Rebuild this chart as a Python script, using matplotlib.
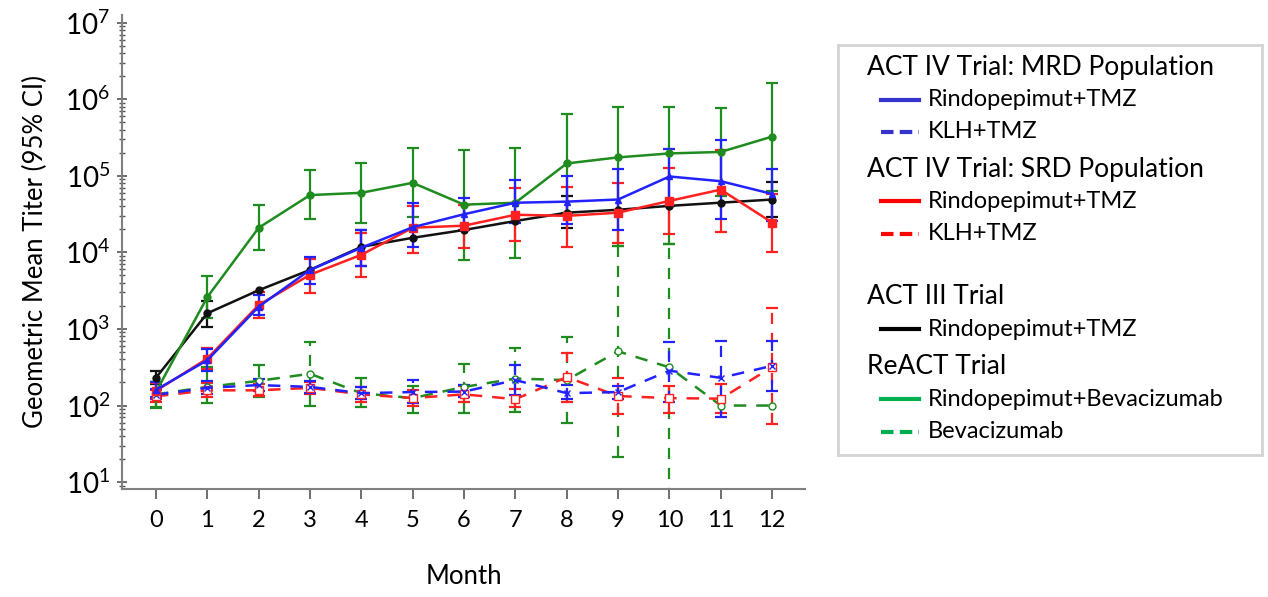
import numpy as np
import matplotlib.pyplot as plt
from matplotlib.ticker import FixedLocator, LogLocator, FuncFormatter, NullFormatter

plt.rcParams['font.family'] = ['Lato', 'DejaVu Sans']
plt.rcParams['mathtext.fontset'] = 'custom'
plt.rcParams['mathtext.rm'] = 'Lato'
plt.rcParams['mathtext.it'] = 'Lato'

nan = np.nan
months = list(range(13))
decades = [1e1, 1e2, 1e3, 1e4, 1e5, 1e6, 1e7]

# ACT IV, MRD population
mrd_rindo    = [160, 390, 1950, 5900, 11500, 21300, 31500, 44500, 46000, 49000, 98000, 85000, 58000]
mrd_rindo_lo = [130, 280, 1500, 3900, 6600, 11800, 19500, 24500, 23500, 19500, 40000, 27600, 25700]
mrd_rindo_hi = [200, 540, 2800, 8600, 19500, 44000, 52000, 89000, 100000, 123000, 225000, 290000, 123000]
mrd_klh      = [138, 170, 185, 175, 145, 150, 152, 215, 145, 150, 285, 230, 330]
mrd_klh_lo   = [120, 140, 155, 145, 123, 107, 130, 137, 120, 123, 112, 71, 155]
mrd_klh_hi   = [165, 210, 220, 210, 175, 215, 185, 340, 185, 180, 680, 690, 690]

# ACT IV, SRD population
srd_rindo    = [155, 410, 2050, 5100, 9300, 21000, 22300, 31000, 30000, 33000, 47000, 66000, 24500]
srd_rindo_lo = [125, 300, 1380, 2950, 4800, 9800, 11300, 14000, 11800, 13200, 17400, 18600, 10200]
srd_rindo_hi = [195, 560, 3000, 8300, 17800, 40000, 42000, 69000, 72000, 81000, 126000, 218000, 58000]
srd_klh      = [132, 158, 158, 170, 140, 125, 140, 121, 235, 133, 125, 123, 318]
srd_klh_lo   = [110, 130, 135, 140, 112, 100, 110, 95, 112, 78, 80, 80, 58]
srd_klh_hi   = [160, 195, 190, 205, 175, 160, 180, 165, 490, 230, 178, 190, 1850]

# ACT III
act3    = [230, 1600, 3200, 5900, 11800, 15500, 19600, 25700, 33000, 36000, 40500, 44600, 49000]
act3_lo = [190, 1050, nan, nan, 6600, nan, nan, nan, 21000, nan, nan, nan, 28700]
act3_hi = [280, 2300, nan, nan, 19500, nan, nan, nan, 54000, nan, nan, nan, 83000]

# ReACT
react_rindo    = [150, 2600, 20900, 56000, 60000, 81000, 42000, 44500, 145000, 174000, 196000, 205000, 325000]
react_rindo_lo = [95, 1380, 10700, 27600, 24500, 29000, 7900, 8500, 33000, 12000, 13000, 55000, 63000]
react_rindo_hi = [200, 4900, 41600, 118000, 148000, 234000, 218000, 234000, 650000, 800000, 800000, 770000, 1650000]
react_bev      = [140, 175, 210, 260, 145, 125, 175, 225, 215, 510, 315, 100, 100]
react_bev_lo   = [93, 107, 130, 100, 95, 80, 80, 82, 60, 21, 1, nan, nan]
react_bev_hi   = [200, 320, 340, 680, 230, 180, 350, 560, 790, 12000, 13000, nan, nan]

GREEN = '#1e8c1e'
BLUE = '#2222ff'
RED = '#ff2020'
BLACK = '#111111'

# (values, lo, hi, colour, linestyle, marker, filled)
series = [
    (react_bev, react_bev_lo, react_bev_hi, GREEN, '--', 'o', False),
    (srd_klh, srd_klh_lo, srd_klh_hi, RED, '--', 's', False),
    (mrd_klh, mrd_klh_lo, mrd_klh_hi, BLUE, '--', 'x', False),
    (act3, act3_lo, act3_hi, BLACK, '-', 'o', True),
    (react_rindo, react_rindo_lo, react_rindo_hi, GREEN, '-', 'o', True),
    (srd_rindo, srd_rindo_lo, srd_rindo_hi, RED, '-', 's', True),
    (mrd_rindo, mrd_rindo_lo, mrd_rindo_hi, BLUE, '-', '^', True),
]

fig = plt.figure(figsize=(12.68, 5.97), dpi=100)
ax = fig.add_axes([122 / 1268, 1 - 489 / 597, 683 / 1268, 474 / 597])

for vals, lo, hi, col, ls, mk, filled in series:
    x = np.array(months, dtype=float)
    y = np.array(vals, dtype=float)
    lo = np.array(lo, dtype=float)
    hi = np.array(hi, dtype=float)
    ax.plot(x, y, color=col, linestyle=ls, linewidth=1.8,
            dashes=(5, 4) if ls == '--' else (None, None),
            marker=mk, markersize=6 if mk == 's' else 5,
            markerfacecolor=col if filled else 'white',
            markeredgecolor=col, markeredgewidth=1.0, zorder=3)
    ok = np.isfinite(lo) & np.isfinite(hi)
    eb = ax.errorbar(x[ok], y[ok], yerr=[y[ok] - lo[ok], hi[ok] - y[ok]],
                     fmt='none', ecolor=col, elinewidth=1.6, capsize=4,
                     capthick=1.6, zorder=2)
    if ls == '--':
        eb[2][0].set_linestyle((0, (5, 4)))

ax.set_yscale('log')
ax.set_ylim(10 ** 0.91, 10 ** 7.1)
ax.set_xlim(-0.66, 12.64)
ax.set_xticks(months)
ax.set_xticklabels([str(m) for m in months])
ax.yaxis.set_major_locator(FixedLocator(decades))
ax.yaxis.set_minor_locator(LogLocator(base=10, subs=np.arange(2, 10), numticks=20))
ax.yaxis.set_minor_formatter(NullFormatter())
ax.yaxis.set_major_formatter(FuncFormatter(lambda v, _: r'$10^{%d}$' % round(np.log10(v))))

for side in ('top', 'right'):
    ax.spines[side].set_visible(False)
for side in ('left', 'bottom'):
    ax.spines[side].set_color('#808080')
    ax.spines[side].set_linewidth(1.5)

ax.tick_params(axis='y', which='major', direction='inout', length=7, width=1.2,
               color='#555555', labelsize=20, pad=5)
ax.tick_params(axis='y', which='minor', direction='inout', length=4, width=1.0,
               color='#555555')
ax.tick_params(axis='x', direction='out', length=7, width=1.2, color='#555555',
               labelsize=17, pad=8)

ax.set_xlabel('Month', fontsize=18.5, labelpad=24)
ax.set_ylabel('Geometric Mean Titer (95% CI)', fontsize=18.5, labelpad=12)

# legend panel, drawn by hand so section headers sit left of the entries
lax = fig.add_axes([838 / 1268, 1 - 455 / 597, 424 / 1268, 410 / 597])
lax.set_xlim(0, 424)
lax.set_ylim(410, 0)
lax.set_xticks([])
lax.set_yticks([])
for sp in lax.spines.values():
    sp.set_color('#d4d4d4')
    sp.set_linewidth(2)

legend_rows = [
    ('ACT IV Trial: MRD Population', None, None),
    ('Rindopepimut+TMZ', '#3333cc', '-'),
    ('KLH+TMZ', '#3333cc', '--'),
    ('ACT IV Trial: SRD Population', None, None),
    ('Rindopepimut+TMZ', '#ff0000', '-'),
    ('KLH+TMZ', '#ff0000', '--'),
    ('ACT III Trial', None, None),
    ('Rindopepimut+TMZ', '#000000', '-'),
    ('ReACT Trial', None, None),
    ('Rindopepimut+Bevacizumab', '#00b050', '-'),
    ('Bevacizumab', '#00b050', '--'),
]
row_y = [23, 55, 87, 125, 156, 189, 252, 284, 322, 354, 387]

for (label, col, ls), yy in zip(legend_rows, row_y):
    if col is None:
        lax.text(29, yy, label, fontsize=19, va='center', ha='left')
    else:
        lax.plot([43, 81], [yy, yy], color=col, linewidth=3,
                 linestyle=ls, dashes=(3, 1.5) if ls == '--' else (None, None))
        lax.text(90, yy, label, fontsize=17, va='center', ha='left')

fig.savefig('out.png', dpi=100)
